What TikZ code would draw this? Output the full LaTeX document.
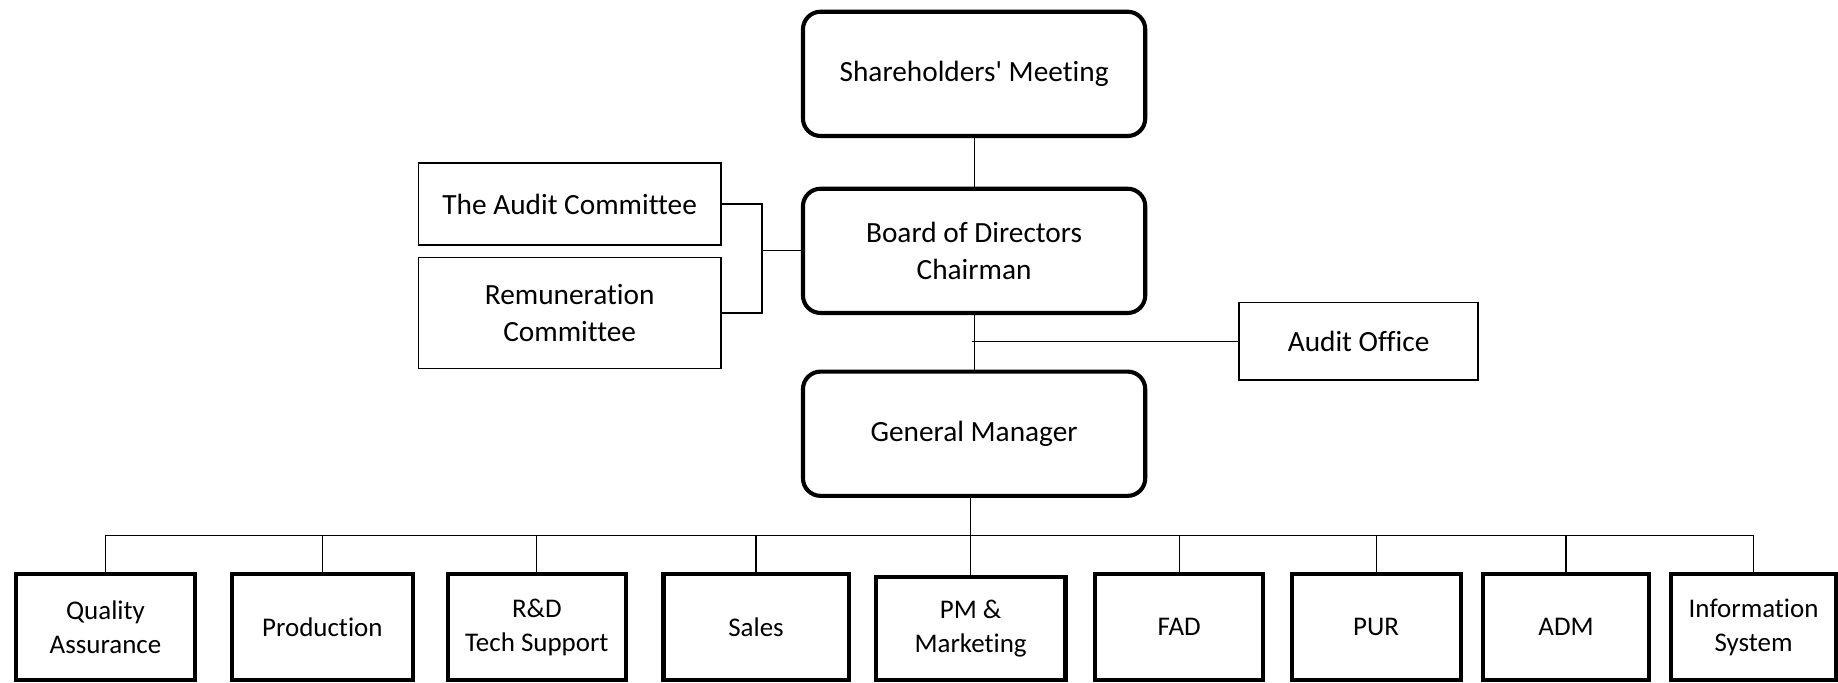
\documentclass[tikz,border=0pt]{standalone}
\usepackage{fontspec}
\setmainfont[Ligatures=NoCommon]{Carlito}
\usetikzlibrary{positioning}

\begin{document}
\begin{tikzpicture}[x=1pt,y=-1pt,
    top node/.style={rectangle,rounded corners=15pt,draw,line width=3.5pt,minimum width=292pt,minimum height=106pt,align=center,font=\fontsize{25}{31}\selectfont},
    side node/.style={rectangle,draw,line width=1.2pt,align=center,font=\fontsize{25}{31}\selectfont},
    dept node/.style={rectangle,draw,line width=3.5pt,minimum height=90pt,align=center,font=\fontsize{23}{29}\selectfont},
    link/.style={-,line width=1pt}]
  \useasboundingbox (0,0) rectangle (1568,582);
  % main line
  \node[top node] (share) at (831,63) {Shareholders\textquotesingle{} Meeting};
  \node[top node] (board) at (831,214) {Board of Directors\\Chairman};
  \node[top node] (gm) at (831,370) {General Manager};
  % committees and audit office
  \node[side node,minimum width=258pt,minimum height=70pt] (audit) at (486,174) {The Audit Committee};
  \node[side node,minimum width=258pt,minimum height=95pt] (remun) at (486,267) {Remuneration\\Committee};
  \node[side node,minimum width=204pt,minimum height=66pt] (office) at (1159,291) {Audit Office};
  % departments
  \node[dept node,minimum width=153pt] (qa) at (90,535) {Quality\\Assurance};
  \node[dept node,minimum width=154pt] (prod) at (275,535) {Production};
  \node[dept node,minimum width=152pt] (rd) at (458,535) {R\&D\\Tech Support};
  \node[dept node,minimum width=158pt] (sales) at (645,535) {Sales};
  \node[dept node,minimum width=162pt,minimum height=88pt] (pm) at (828,536) {PM \&\\Marketing};
  \node[dept node,minimum width=143pt] (fad) at (1006,535) {FAD};
  \node[dept node,minimum width=144pt] (pur) at (1174,535) {PUR};
  \node[dept node,minimum width=141pt] (adm) at (1336,535) {ADM};
  \node[dept node,minimum width=141pt] (info) at (1496,535) {Information\\System};
  % junctions
  \coordinate (brk) at (650,214);
  \coordinate (mid) at (829,291);
  \coordinate (bus) at (828,457);
  \path[link] (share) edge (board);
  \path[link] (board) edge (gm);
  \path[link] (mid) edge (office);
  \draw[link] (audit.east) -| (brk) |- (remun.east);
  \path[link] (brk) edge (board);
  \draw[line width=1.5pt] (bus |- gm.south) -- (bus);
  \foreach \d in {qa,prod,rd,sales,pm,fad,pur,adm,info}
    \draw[link] (\d.north) |- (bus);
\end{tikzpicture}
\end{document}
